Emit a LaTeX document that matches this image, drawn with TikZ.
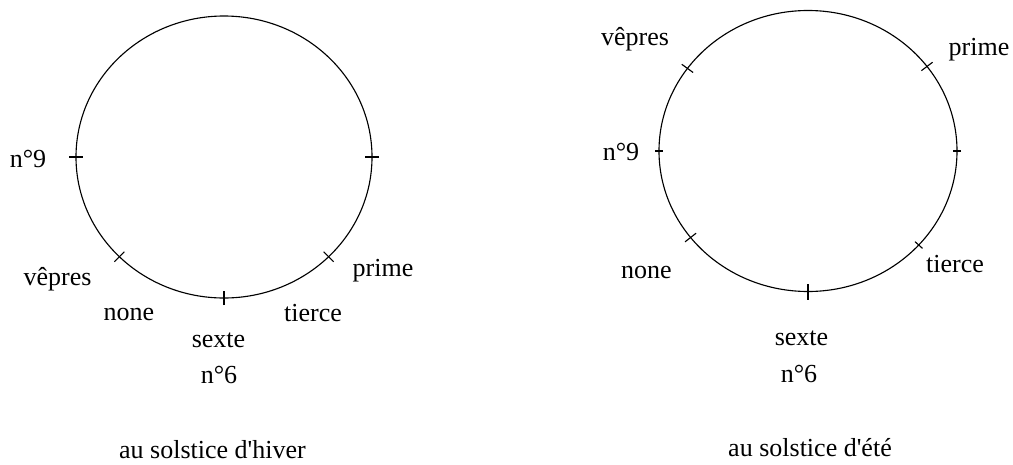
\documentclass[tikz,border=0pt]{standalone}
\usepackage{fontspec}
\setmainfont{Liberation Serif}
\usetikzlibrary{calc}

\begin{document}
\begin{tikzpicture}[line width=0.8pt, font=\fontsize{18.5}{22}\selectfont]
  \useasboundingbox (0,0) rectangle (25.325,-11.6);

  % Winter dial: circle and the hour ticks
  \coordinate (hiver) at (5.6,-3.925);
  \draw (hiver) ellipse [x radius=3.7, y radius=3.525];
  \foreach \a/\s in {0/0.175, 180/0.175, 270/0.175, 225/0.175, 315/0.175} {
    \draw ($(hiver)+(\a:3.7 and 3.525)+(\a:\s)$) -- ($(hiver)+(\a:3.7 and 3.525)-(\a:\s)$);
  }

  % Winter labels
  \node[anchor=base] (hneuf)   at (0.7,-4.175)    {n°9};
  \node[anchor=base] (hvepres) at (1.4375,-7.125) {vêpres};
  \node[anchor=base] (hprime)  at (9.575,-6.9)    {prime};
  \node[anchor=base] (hnone)   at (3.225,-8.0)    {none};
  \node[anchor=base] (htierce) at (7.825,-8.025)  {tierce};
  \node[anchor=base] (hsexte)  at (5.4625,-8.675) {sexte};
  \node[anchor=base] (hsix)    at (5.475,-9.575)  {n°6};
  \node[anchor=base] (htitle)  at (5.3125,-11.47) {au solstice d\textquotesingle hiver};

  % Summer dial: circle and the hour ticks
  \coordinate (ete) at (20.2,-3.775);
  \draw (ete) ellipse [x radius=3.725, y radius=3.5125];
  \foreach \a/\s in {0/0.1, 180/0.1, 270/0.2, 144/0.175, 37/0.175, 218/0.175, 318/0.125} {
    \draw ($(ete)+(\a:3.725 and 3.5125)+(\a:\s)$) -- ($(ete)+(\a:3.725 and 3.5125)-(\a:\s)$);
  }

  % Summer labels
  \node[anchor=base] (evepres) at (15.875,-1.125) {vêpres};
  \node[anchor=base] (eprime)  at (24.475,-1.375) {prime};
  \node[anchor=base] (eneuf)   at (15.525,-4.0)   {n°9};
  \node[anchor=base] (enone)   at (16.1625,-6.95) {none};
  \node[anchor=base] (etierce) at (23.875,-6.8)   {tierce};
  \node[anchor=base] (esexte)  at (20.0375,-8.625) {sexte};
  \node[anchor=base] (esix)    at (19.975,-9.55)  {n°6};
  \node[anchor=base] (etitle)  at (20.25,-11.42)  {au solstice d\textquotesingle été};
\end{tikzpicture}
\end{document}
